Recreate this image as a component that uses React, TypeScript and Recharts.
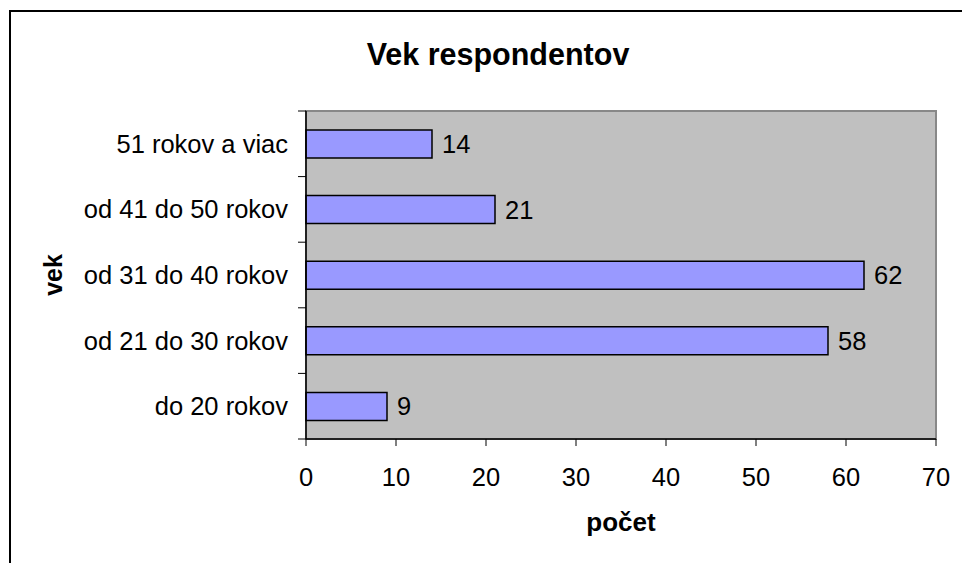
import React from 'react';
import { BarChart, Bar, XAxis, YAxis, ReferenceArea, LabelList, Label } from 'recharts';

const categories = ['51 rokov a viac', 'od 41 do 50 rokov', 'od 31 do 40 rokov', 'od 21 do 30 rokov', 'do 20 rokov'];
const counts = [14, 21, 62, 58, 9];
const xTicks = [0, 10, 20, 30, 40, 50, 60, 70];

const data = categories.map((name, i) => ({ name, value: counts[i] }));

const W = 962;
const H = 563;
const PLOT_TOP = 111;
const PLOT_BOTTOM = 439;
const PLOT_LEFT = 306;
const PLOT_RIGHT = 936;
const X_AXIS_H = 60;
const FONT = '"Liberation Sans", Arial, sans-serif';
const BAND = (PLOT_BOTTOM - PLOT_TOP) / categories.length;
const FS = 25.5;

const CatTick = (props: any) => {
  const { x, y, payload, index } = props;
  const half = BAND / 2;
  return (
    <g>
      <line x1={x - 8} x2={x} y1={y - half} y2={y - half} stroke="#000" strokeWidth={1} />
      {index === categories.length - 1 && (
        <line x1={x - 8} x2={x} y1={y + half} y2={y + half} stroke="#000" strokeWidth={1} />
      )}
      <text x={x - 18} y={y} dy="0.355em" textAnchor="end" fontSize={FS} fill="#000" fontFamily={FONT}>
        {payload.value}
      </text>
    </g>
  );
};

export default function App() {
  return (
    <div style={{ position: 'absolute', left: 0, top: 0, width: W, height: H, overflow: 'hidden', background: '#fff', fontFamily: FONT }}>
      <div style={{ position: 'absolute', left: 9, top: 10, width: 1100, height: 700, border: '2px solid #000', boxSizing: 'border-box' }} />
      <div style={{ position: 'absolute', left: 0, top: 0 }}>
        <BarChart
          width={W}
          height={H}
          data={data}
          layout="vertical"
          margin={{ top: PLOT_TOP, right: W - PLOT_RIGHT, bottom: H - PLOT_BOTTOM - X_AXIS_H, left: 0 }}
          barSize={28}
        >
          <ReferenceArea x1={0} x2={70} fill="#C0C0C0" fillOpacity={1} stroke="#888" strokeWidth={2} ifOverflow="visible" />
          <XAxis
            type="number"
            domain={[0, 70]}
            ticks={xTicks}
            interval={0}
            height={X_AXIS_H}
            tickSize={7}
            tickMargin={22}
            tick={{ fill: '#000', fontSize: FS, fontFamily: FONT }}
            tickLine={{ stroke: '#000' }}
            axisLine={{ stroke: '#000', strokeWidth: 1.5 }}
          >
            <Label
              content={() => (
                <text x={(PLOT_LEFT + PLOT_RIGHT) / 2} y={531} textAnchor="middle" fontSize={26} fontWeight="bold" fill="#000" fontFamily={FONT}>
                  počet
                </text>
              )}
            />
          </XAxis>
          <YAxis
            type="category"
            dataKey="name"
            width={PLOT_LEFT}
            tickSize={0}
            tickMargin={0}
            tickLine={false}
            interval={0}
            tick={<CatTick />}
            axisLine={{ stroke: '#000', strokeWidth: 1.5 }}
          >
            <Label
              content={() => (
                <text x={62} y={(PLOT_TOP + PLOT_BOTTOM) / 2} transform={`rotate(-90, 62, ${(PLOT_TOP + PLOT_BOTTOM) / 2})`} textAnchor="middle" fontSize={25} fontWeight="bold" fill="#000" fontFamily={FONT}>
                  vek
                </text>
              )}
            />
          </YAxis>
          <Bar dataKey="value" fill="#9999FF" stroke="#000" strokeWidth={1.5} isAnimationActive={false}>
            <LabelList dataKey="value" position="right" offset={10} fill="#000" fontSize={FS} fontFamily={FONT} />
          </Bar>
        </BarChart>
      </div>
      <div style={{ position: 'absolute', left: 0, width: 996, top: 36, textAlign: 'center', fontSize: 30.5, fontWeight: 'bold', color: '#000', lineHeight: '36px' }}>
        Vek respondentov
      </div>
    </div>
  );
}
